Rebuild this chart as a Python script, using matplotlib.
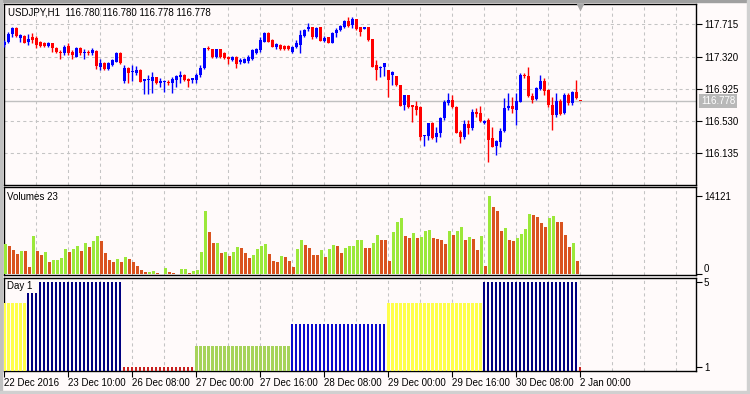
import numpy as np
import matplotlib
matplotlib.use("Agg")
import matplotlib.pyplot as plt
from matplotlib.transforms import blended_transform_factory
from matplotlib.patches import Rectangle

plt.rcParams["font.family"] = ["Liberation Sans Narrow", "Liberation Sans", "DejaVu Sans"]
plt.rcParams["font.size"] = 7

title_text = "USDJPY,H1  116.780 116.780 116.778 116.778"

# *** hourly USDJPY candles, 22 Dec 2016 18:00 .. 2 Jan 2017 00:00 ***
opens = [
    117.461, 117.500, 117.600, 117.666, 117.543, 117.572, 117.502, 117.556, 117.543, 117.502,
    117.482, 117.453, 117.482, 117.428, 117.379, 117.360, 117.449, 117.379, 117.318, 117.428,
    117.360, 117.379, 117.360, 117.392, 117.196, 117.237, 117.167, 117.216, 117.257, 117.367,
    117.020, 117.176, 117.134, 117.115, 117.155, 117.020, 117.033, 117.020, 117.066, 117.000,
    117.005, 117.012, 116.992, 117.033, 117.073, 117.094, 117.045, 117.033, 117.033, 117.094,
    117.176, 117.428, 117.409, 117.311, 117.409, 117.360, 117.318, 117.278, 117.318, 117.257,
    117.245, 117.269, 117.286, 117.360, 117.400, 117.502, 117.605, 117.523, 117.441, 117.461,
    117.449, 117.449, 117.379, 117.433, 117.461, 117.572, 117.654, 117.678, 117.563, 117.678,
    117.514, 117.556, 117.490, 117.605, 117.645, 117.686, 117.759, 117.706, 117.776, 117.678,
    117.660, 117.678, 117.531, 117.216, 117.176, 117.188, 117.155, 117.094, 117.082, 116.972,
    116.726, 116.849, 116.726, 116.714, 116.706, 116.347, 116.347, 116.510, 116.331, 116.387,
    116.564, 116.755, 116.788, 116.706, 116.399, 116.331, 116.494, 116.441, 116.645, 116.625,
    116.506, 116.543, 116.319, 116.224, 116.277, 116.408, 116.686, 116.714, 116.665, 116.767,
    117.094, 117.082, 116.837, 116.796, 116.922, 117.024, 116.910, 116.726, 116.604, 116.779,
    116.625, 116.849, 116.747, 116.882, 116.780,
]
highs = [
    117.523, 117.625, 117.682, 117.682, 117.596, 117.584, 117.596, 117.605, 117.572, 117.510,
    117.498, 117.498, 117.490, 117.437, 117.400, 117.461, 117.490, 117.400, 117.437, 117.437,
    117.409, 117.400, 117.425, 117.400, 117.286, 117.253, 117.253, 117.290, 117.376, 117.376,
    117.216, 117.192, 117.216, 117.204, 117.167, 117.045, 117.094, 117.134, 117.069, 117.053,
    117.033, 117.033, 117.073, 117.094, 117.143, 117.106, 117.053, 117.061, 117.115, 117.216,
    117.425, 117.449, 117.412, 117.412, 117.412, 117.376, 117.327, 117.327, 117.327, 117.302,
    117.302, 117.339, 117.412, 117.425, 117.556, 117.621, 117.621, 117.535, 117.482, 117.474,
    117.461, 117.461, 117.449, 117.523, 117.645, 117.657, 117.727, 117.682, 117.682, 117.682,
    117.572, 117.559, 117.621, 117.666, 117.706, 117.768, 117.801, 117.801, 117.780, 117.682,
    117.682, 117.682, 117.535, 117.278, 117.204, 117.241, 117.155, 117.143, 117.082, 116.972,
    116.849, 116.849, 116.726, 116.779, 116.714, 116.359, 116.506, 116.518, 116.461, 116.583,
    116.788, 116.870, 116.849, 116.714, 116.420, 116.545, 116.543, 116.674, 116.686, 116.714,
    116.543, 116.567, 116.461, 116.298, 116.445, 116.809, 116.870, 116.828, 116.870, 117.115,
    117.115, 117.196, 116.870, 116.951, 117.094, 117.053, 116.922, 116.828, 116.870, 116.800,
    116.870, 116.877, 116.902, 117.033, 116.780,
]
lows = [
    117.437, 117.490, 117.560, 117.559, 117.502, 117.486, 117.461, 117.490, 117.428, 117.437,
    117.437, 117.437, 117.379, 117.363, 117.290, 117.339, 117.339, 117.290, 117.314, 117.339,
    117.290, 117.339, 117.339, 117.164, 117.155, 117.155, 117.155, 117.204, 117.253, 117.229,
    116.992, 116.992, 117.020, 117.094, 117.008, 116.861, 116.861, 116.877, 116.984, 116.943,
    116.889, 116.972, 116.870, 116.951, 116.992, 117.020, 116.943, 116.992, 116.992, 117.073,
    117.167, 117.400, 117.302, 117.302, 117.302, 117.290, 117.229, 117.265, 117.183, 117.229,
    117.241, 117.237, 117.278, 117.351, 117.379, 117.498, 117.498, 117.433, 117.412, 117.400,
    117.400, 117.400, 117.363, 117.425, 117.360, 117.559, 117.637, 117.535, 117.547, 117.510,
    117.498, 117.486, 117.486, 117.563, 117.633, 117.670, 117.678, 117.666, 117.645, 117.572,
    117.657, 117.514, 117.192, 117.033, 117.073, 117.082, 116.828, 116.972, 116.959, 116.714,
    116.665, 116.690, 116.522, 116.604, 116.298, 116.224, 116.298, 116.310, 116.277, 116.331,
    116.543, 116.726, 116.690, 116.383, 116.261, 116.310, 116.365, 116.420, 116.583, 116.522,
    116.494, 116.032, 116.208, 116.114, 116.216, 116.399, 116.665, 116.625, 116.481, 116.767,
    117.053, 116.828, 116.747, 116.788, 116.910, 116.849, 116.706, 116.420, 116.583, 116.604,
    116.613, 116.726, 116.726, 116.796, 116.778,
]
closes = [
    117.502, 117.600, 117.666, 117.572, 117.584, 117.490, 117.531, 117.523, 117.461, 117.449,
    117.453, 117.482, 117.421, 117.379, 117.360, 117.441, 117.360, 117.339, 117.421, 117.360,
    117.379, 117.360, 117.400, 117.204, 117.237, 117.167, 117.237, 117.278, 117.367, 117.237,
    117.176, 117.115, 117.147, 117.155, 117.012, 117.041, 117.041, 117.066, 117.000, 117.020,
    117.020, 117.000, 117.041, 117.082, 117.094, 117.033, 117.024, 117.053, 117.094, 117.176,
    117.421, 117.409, 117.311, 117.409, 117.311, 117.298, 117.286, 117.318, 117.229, 117.278,
    117.286, 117.311, 117.400, 117.409, 117.523, 117.605, 117.502, 117.441, 117.474, 117.409,
    117.409, 117.409, 117.441, 117.482, 117.584, 117.645, 117.678, 117.563, 117.666, 117.514,
    117.543, 117.490, 117.612, 117.645, 117.698, 117.759, 117.698, 117.776, 117.654, 117.624,
    117.678, 117.523, 117.196, 117.155, 117.196, 117.237, 117.033, 117.134, 116.972, 116.718,
    116.849, 116.706, 116.706, 116.665, 116.338, 116.359, 116.502, 116.319, 116.387, 116.564,
    116.767, 116.788, 116.706, 116.387, 116.331, 116.490, 116.441, 116.645, 116.613, 116.534,
    116.530, 116.298, 116.216, 116.285, 116.412, 116.686, 116.714, 116.674, 116.779, 117.094,
    117.082, 116.837, 116.788, 116.931, 117.024, 116.902, 116.726, 116.604, 116.779, 116.616,
    116.849, 116.747, 116.882, 116.809, 116.778,
]
volumes = [
    5400, 5127, 4408, 3688, 4228, 4190, 1349, 6986, 4228, 3508,
    3988, 2309, 2609, 2650, 2909, 4587, 4108, 4587, 5127, 4228,
    5727, 5007, 6027, 6986, 6027, 3868, 2609, 2189, 2789, 2309,
    3208, 2789, 2189, 1529, 750, 390, 510, 630, 330, 150,
    1169, 390, 210, 60, 989, 1000, 330, 630, 810, 4048,
    11485, 7706, 5667, 5700, 3868, 3988, 3328, 3988, 4947, 4827,
    3868, 3028, 3508, 4587, 5187, 5487, 3688, 2429, 2309, 3328,
    3148, 2429, 1289, 4587, 6207, 5307, 4827, 3508, 3480, 4348,
    3208, 4587, 5307, 5127, 3868, 4827, 5127, 5160, 6147, 6207,
    4827, 4800, 5727, 7106, 6207, 6147, 2429, 7706, 9505, 10225,
    6986, 6626, 7526, 6626, 6806, 7826, 8006, 6626, 6386, 6207,
    5487, 7886, 7106, 7886, 8605, 6207, 6806, 6386, 4408, 6986,
    1589, 14121, 12204, 11485, 7886, 8425, 6207, 6027, 6507, 7286,
    8186, 10884, 10704, 10344, 9325, 8545, 10164, 10524, 9445, 9400,
    7106, 4947, 5667, 2429, 3,
]

last_price = 116.778
price_ticks = [116.135, 116.530, 116.925, 117.320, 117.715]
price_limits = (115.746, 117.960)
volume_max = 14121

# *** "Day 1" indicator: weekday number of each hourly bar ***
day_names = ["22 Dec", "23 Dec", "26 Dec", "27 Dec", "28 Dec", "29 Dec", "30 Dec", "2 Jan"]
day_of_week = [4, 5, 1, 2, 3, 4, 5, 1]
bars_per_day = [6, 24, 18, 24, 24, 24, 24, 1]

time_tick_bars = [0, 16, 32, 48, 64, 80, 96, 112, 128, 144]
time_tick_labels = ["22 Dec 2016", "23 Dec 10:00", "26 Dec 08:00", "27 Dec 00:00",
                    "27 Dec 16:00", "28 Dec 08:00", "29 Dec 00:00", "29 Dec 16:00",
                    "30 Dec 08:00", "2 Jan 00:00"]

BG = "#FFFAFA"
GRID = "#C4C4C4"
BULL, BEAR = "#0000FF", "#FF0000"
VOL_UP, VOL_DOWN = "#9BE83A", "#D9531E"
DAY_COLORS = {1: "#C8201E", 2: "#A6D35A", 3: "#0A0ACD", 4: "#FFFF4A", 5: "#000080"}
DAY_WIDTHS = {1: 0.5, 2: 0.75, 3: 0.5, 4: 0.9, 5: 0.5}

W, H = 750, 394
fig = plt.figure(figsize=(W / 100, H / 100), dpi=100, facecolor=BG)


def px_axes(x0, y0, x1, y1):
    return fig.add_axes([x0 / W, 1 - y1 / H, (x1 - x0) / W, (y1 - y0) / H], facecolor=BG)


ax1 = px_axes(4, 4.3, 695.7, 185)
ax2 = px_axes(4, 187.3, 695.7, 275.3)
ax3 = px_axes(4, 277.7, 695.7, 371)

n = len(closes)
x = np.arange(n)
xlim = (-0.1, 172.8)

for ax in (ax1, ax2, ax3):
    ax.set_xlim(*xlim)
    for s in ax.spines.values():
        s.set_color("black")
        s.set_linewidth(1.0)
    ax.yaxis.tick_right()
    ax.tick_params(axis="y", length=4, width=0.8, pad=2, colors="black", labelsize=7)
    for gx in range(8, 173, 8):
        ax.axvline(gx, color=GRID, lw=0.75, ls=(0, (3, 3)), zorder=0)

# *** price panel ***
o = np.array(opens)
c = np.array(closes)
up = c >= o
cols = np.where(up, BULL, BEAR)
ax1.vlines(x, lows, highs, colors=cols, lw=1, zorder=3)
body_lo = np.minimum(o, c)
body_h = np.maximum(np.abs(c - o), 0.009)
ax1.bar(x, body_h, bottom=body_lo, width=0.72, color=cols, linewidth=0, zorder=4)

ax1.set_ylim(*price_limits)
ax1.set_yticks(price_ticks)
ax1.set_yticklabels([f"{v:.3f}" for v in price_ticks])
for v in price_ticks:
    ax1.axhline(v, color=GRID, lw=0.75, ls=(0, (3, 3)), zorder=0)
ax1.axhline(last_price, color="#C0C0C0", lw=1, zorder=1)
ax1.tick_params(axis="x", length=0, labelbottom=False)

tr = blended_transform_factory(ax1.transAxes, ax1.transData)
ax1.text(1.0077, last_price, f"{last_price:.3f}", transform=tr, color="white",
         va="center", ha="left", fontsize=7, clip_on=False,
         bbox=dict(boxstyle="square,pad=0.2", fc="#B8B8B8", ec="none"))
ax1.text(0.006, 0.955, title_text, transform=ax1.transAxes, va="center", ha="left", fontsize=7)
tri = blended_transform_factory(ax1.transData, ax1.transAxes)
ax1.plot([144], [0.985], transform=tri, marker="v", ms=6, color="#A8A8A8", mec="none",
         clip_on=False, zorder=6)

# *** volumes panel ***
v = np.array(volumes)
vcols = [VOL_UP] + [VOL_UP if v[i] > v[i - 1] else VOL_DOWN for i in range(1, n)]
ax2.bar(x + 0.25, v, width=0.55, color=vcols, linewidth=0, zorder=3)
ax2.set_ylim(-144, 15687)
ax2.set_yticks([0, volume_max])
ax2.set_yticklabels(["0", str(volume_max)])
vlabels = ax2.get_yticklabels()
vlabels[0].set_verticalalignment("bottom")
ax2.tick_params(axis="x", length=0, labelbottom=False)
ax2.text(0.005, 0.89, "Volumes 23", transform=ax2.transAxes, va="center", ha="left", fontsize=7)

# *** Day 1 panel ***
start = 0
for dow, cnt in zip(day_of_week, bars_per_day):
    xs = x[start:start + cnt]
    ax3.bar(xs, [dow] * cnt, width=DAY_WIDTHS[dow], color=DAY_COLORS[dow], linewidth=0, zorder=3)
    start += cnt
ax3.set_ylim(0.81, 5.19)
ax3.set_yticks([1, 5])
ax3.set_yticklabels(["1", "5"])
ax3.text(0.005, 0.906, "Day 1 ", transform=ax3.transAxes, va="center", ha="left", fontsize=7,
         zorder=5, bbox=dict(boxstyle="square,pad=0.15", fc=BG, ec="none"))

ax3.set_xticks(time_tick_bars)
ax3.set_xticklabels(time_tick_labels)
ax3.tick_params(axis="x", length=4, width=0.8, pad=1, labelsize=7)
for lbl in ax3.get_xticklabels():
    lbl.set_horizontalalignment("left")

# *** window frame ***
fig.add_artist(Rectangle((0, 1 - 1.5 / H), 1, 1.5 / H, transform=fig.transFigure, color="#A0A0A0"))
fig.add_artist(Rectangle((0, 0), 2 / W, 1, transform=fig.transFigure, color="#C0C0C0"))
fig.add_artist(Rectangle((1 - 3 / W, 0), 3 / W, 1, transform=fig.transFigure, color="#D0D0D0"))
fig.add_artist(Rectangle((0, 0), 1, 3 / H, transform=fig.transFigure, color="#D0D0D0"))

fig.savefig("out.png", dpi=100, facecolor=BG)
